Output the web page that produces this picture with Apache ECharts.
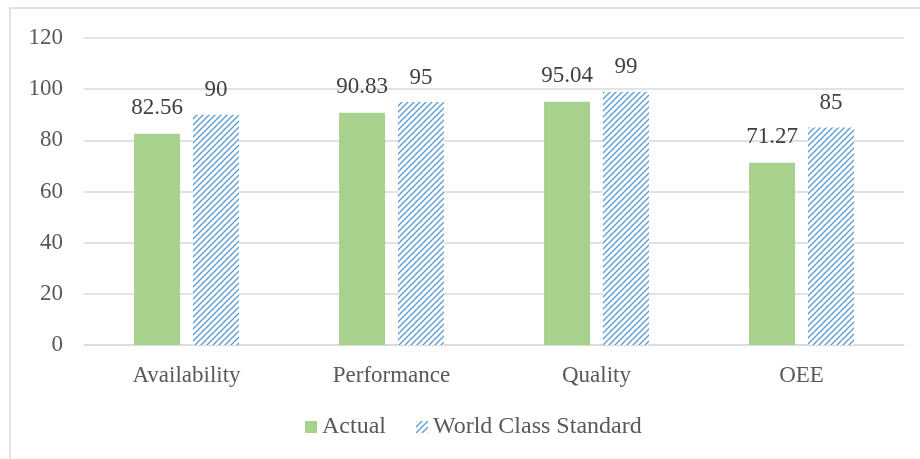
<!DOCTYPE html>
<html><head><meta charset="utf-8">
<script src="https://cdn.jsdelivr.net/npm/echarts@6/dist/echarts.min.js"></script>
<style>html,body{margin:0;padding:0;background:#fff}#c{width:920px;height:459px}</style>
</head><body><div id="c"></div>
<script>
const categories = ['Availability', 'Performance', 'Quality', 'OEE'];
const actual = [82.56, 90.83, 95.04, 71.27];
const worldClass = [90, 95, 99, 85];
const seriesNames = ['Actual', 'World Class Standard'];

function hatch() {
  const s = 6;
  const c = document.createElement('canvas');
  c.width = s; c.height = s;
  const g = c.getContext('2d');
  g.fillStyle = '#ffffff';
  g.fillRect(0, 0, s, s);
  g.strokeStyle = '#5b9bd5';
  g.lineWidth = 1.3;
  g.beginPath();
  g.moveTo(0, s); g.lineTo(s, 0);
  g.moveTo(-s/2, s/2); g.lineTo(s/2, -s/2);
  g.moveTo(s/2, s*1.5); g.lineTo(s*1.5, s/2);
  g.stroke();
  return c;
}
const pat = { image: hatch(), repeat: 'repeat' };
const font = '"Liberation Serif", "Times New Roman", serif';

const chart = echarts.init(document.getElementById('c'));
chart.setOption({
  animation: false,
  textStyle: { fontFamily: font },
  graphic: [{
    type: 'rect', shape: { x: 10, y: 8, width: 930, height: 470 },
    style: { fill: 'none', stroke: '#d9d9d9', lineWidth: 1.5 }, silent: true
  }],
  grid: { left: 84, right: 16, top: 38, bottom: 114 },
  legend: {
    top: 410, left: 300, itemWidth: 12, itemHeight: 12, itemGap: 30,
    textStyle: { fontFamily: font, fontSize: 24, color: '#595959' },
    data: [{ name: seriesNames[0], icon: 'rect' }, { name: seriesNames[1], icon: 'rect' }]
  },
  xAxis: {
    type: 'category', data: categories,
    axisLine: { lineStyle: { color: '#d9d9d9', width: 1.5 } },
    axisTick: { show: false },
    axisLabel: { fontFamily: font, fontSize: 23, color: '#595959', margin: 19 }
  },
  yAxis: {
    type: 'value', min: 0, max: 120, interval: 20,
    axisLine: { show: false }, axisTick: { show: false },
    splitLine: { lineStyle: { color: '#d9d9d9', width: 1.5 } },
    axisLabel: { fontFamily: font, fontSize: 23, color: '#595959', margin: 21 }
  },
  series: [{
    name: seriesNames[0], type: 'bar', data: actual, barWidth: 46, barGap: '28%',
    itemStyle: { color: '#a9d18e' },
    label: { show: true, position: 'top', distance: 14, fontFamily: font, fontSize: 23, color: '#404040' }
  }, {
    name: seriesNames[1], type: 'bar', data: worldClass, barWidth: 46,
    itemStyle: { color: pat },
    label: { show: true, position: 'top', distance: 13, fontFamily: font, fontSize: 23, color: '#404040' }
  }]
});
</script></body></html>
